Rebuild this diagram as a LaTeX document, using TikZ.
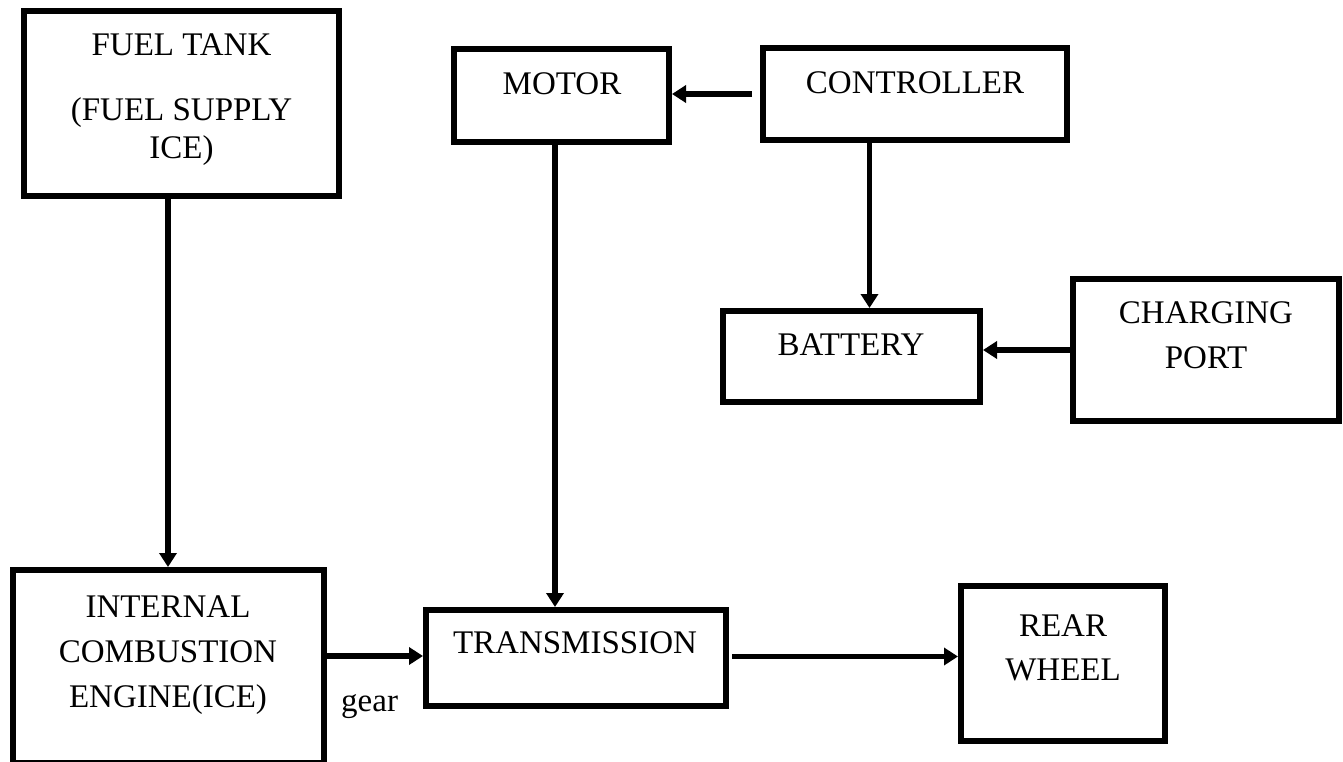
\documentclass[tikz,border=0pt]{standalone}
\usepackage{fontspec}
\setmainfont{Liberation Serif}
\usetikzlibrary{arrows.meta}
\begin{document}
\begin{tikzpicture}[x=1pt,y=-1pt,
  box/.style={draw=black, line width=6pt, rectangle, inner sep=0pt},
  lbl/.style={anchor=base, inner sep=0pt, font=\fontsize{33}{38}\selectfont},
  arr/.style={draw=black, line width=5.5pt, -{Triangle[length=14pt,width=17pt]}}]
\useasboundingbox (0,0) rectangle (1343,761);
% boxes
\node[box, minimum width=315pt, minimum height=185pt] (fuel) at (181.5,103.5) {};
\node[box, minimum width=215pt, minimum height=93pt] (motor) at (561.5,95.5) {};
\node[box, minimum width=304pt, minimum height=92pt] (ctrl) at (915,94) {};
\node[box, minimum width=257pt, minimum height=91pt] (batt) at (851.5,356.5) {};
\node[box, minimum width=266pt, minimum height=142pt] (chg) at (1206,350) {};
\node[box, minimum width=311pt, minimum height=193pt] (ice) at (168,666.5) {};
\node[box, minimum width=300pt, minimum height=96pt] (trans) at (576,658) {};
\node[box, minimum width=204pt, minimum height=155pt] (rear) at (1063,663.5) {};
% labels
\node[lbl] (fuelA) at (181.5,55) {FUEL TANK};
\node[lbl] (fuelB) at (181.5,120) {(FUEL SUPPLY};
\node[lbl] (fuelC) at (181.5,158) {ICE)};
\node[lbl] (motorT) at (562,94) {MOTOR};
\node[lbl] (ctrlT) at (915,93) {CONTROLLER};
\node[lbl] (battT) at (851,355) {BATTERY};
\node[lbl] (chgA) at (1206,323) {CHARGING};
\node[lbl] (chgB) at (1206,368) {PORT};
\node[lbl] (iceA) at (168,617) {INTERNAL};
\node[lbl] (iceB) at (168,662.5) {COMBUSTION};
\node[lbl] (iceC) at (168,707.5) {ENGINE(ICE)};
\node[lbl] (transT) at (575,653) {TRANSMISSION};
\node[lbl] (rearA) at (1063,636) {REAR};
\node[lbl] (rearB) at (1063,680.5) {WHEEL};
\node[lbl, anchor=base west] (gear) at (341,711.5) {gear};
% connectors
\draw[arr] (fuel.south -| ice.north) -- (ice.north);
\draw[arr, shorten <=8pt] (ctrl.west) -- (ctrl.west -| motor.east);
\draw[arr] ([xshift=-6.5pt]motor.south) -- ([xshift=-6.5pt]motor.south |- trans.north);
\draw[arr] ([xshift=-45.5pt]ctrl.south) -- ([xshift=-45.5pt]ctrl.south |- batt.north);
\draw[arr] (chg.west) -- (chg.west -| batt.east);
\draw[arr] ([yshift=2pt]trans.west -| ice.east) -- ([yshift=2pt]trans.west);
\draw[arr, shorten <=3pt] ([yshift=1.5pt]trans.east) -- ([yshift=1.5pt]trans.east -| rear.west);
\end{tikzpicture}
\end{document}
